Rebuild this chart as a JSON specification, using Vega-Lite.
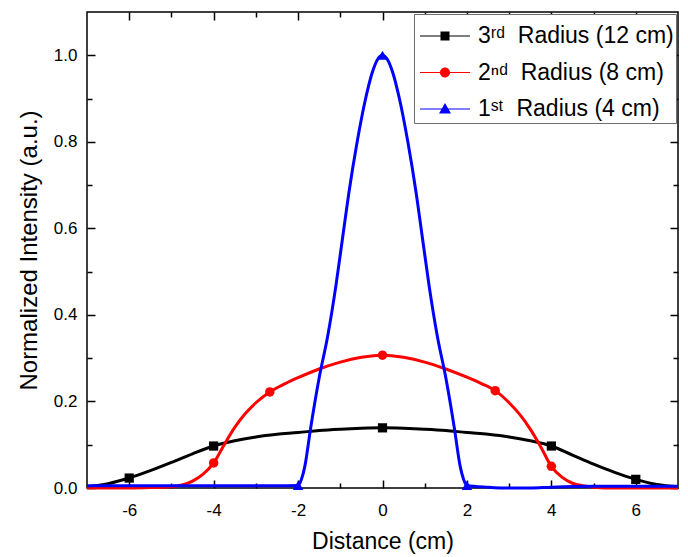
{
  "$schema": "https://vega.github.io/schema/vega-lite/v6.json",
  "autosize": {"type": "none"},
  "padding": {"left": 87, "top": 12, "right": 10, "bottom": 69},
  "width": 591,
  "height": 476,
  "background": "white",
  "datasets": {
    "curves": [
      {"series": "3ʳᵈ\u00a0 Radius (12 cm)", "x": -7, "y": 0.003},
      {"series": "3ʳᵈ\u00a0 Radius (12 cm)", "x": -6.5, "y": 0.01},
      {"series": "3ʳᵈ\u00a0 Radius (12 cm)", "x": -6, "y": 0.023},
      {"series": "3ʳᵈ\u00a0 Radius (12 cm)", "x": -5.5, "y": 0.04},
      {"series": "3ʳᵈ\u00a0 Radius (12 cm)", "x": -5, "y": 0.059},
      {"series": "3ʳᵈ\u00a0 Radius (12 cm)", "x": -4.5, "y": 0.079},
      {"series": "3ʳᵈ\u00a0 Radius (12 cm)", "x": -4, "y": 0.097},
      {"series": "3ʳᵈ\u00a0 Radius (12 cm)", "x": -3.5, "y": 0.109},
      {"series": "3ʳᵈ\u00a0 Radius (12 cm)", "x": -3, "y": 0.118},
      {"series": "3ʳᵈ\u00a0 Radius (12 cm)", "x": -2.5, "y": 0.124},
      {"series": "3ʳᵈ\u00a0 Radius (12 cm)", "x": -2, "y": 0.128},
      {"series": "3ʳᵈ\u00a0 Radius (12 cm)", "x": -1.5, "y": 0.133},
      {"series": "3ʳᵈ\u00a0 Radius (12 cm)", "x": -1, "y": 0.136},
      {"series": "3ʳᵈ\u00a0 Radius (12 cm)", "x": -0.5, "y": 0.138},
      {"series": "3ʳᵈ\u00a0 Radius (12 cm)", "x": 0, "y": 0.139},
      {"series": "3ʳᵈ\u00a0 Radius (12 cm)", "x": 0.5, "y": 0.138},
      {"series": "3ʳᵈ\u00a0 Radius (12 cm)", "x": 1, "y": 0.136},
      {"series": "3ʳᵈ\u00a0 Radius (12 cm)", "x": 1.5, "y": 0.133},
      {"series": "3ʳᵈ\u00a0 Radius (12 cm)", "x": 2, "y": 0.128},
      {"series": "3ʳᵈ\u00a0 Radius (12 cm)", "x": 2.5, "y": 0.124},
      {"series": "3ʳᵈ\u00a0 Radius (12 cm)", "x": 3, "y": 0.118},
      {"series": "3ʳᵈ\u00a0 Radius (12 cm)", "x": 3.5, "y": 0.109},
      {"series": "3ʳᵈ\u00a0 Radius (12 cm)", "x": 4, "y": 0.097},
      {"series": "3ʳᵈ\u00a0 Radius (12 cm)", "x": 4.5, "y": 0.076},
      {"series": "3ʳᵈ\u00a0 Radius (12 cm)", "x": 5, "y": 0.055},
      {"series": "3ʳᵈ\u00a0 Radius (12 cm)", "x": 5.5, "y": 0.036},
      {"series": "3ʳᵈ\u00a0 Radius (12 cm)", "x": 6, "y": 0.02},
      {"series": "3ʳᵈ\u00a0 Radius (12 cm)", "x": 6.5, "y": 0.008},
      {"series": "3ʳᵈ\u00a0 Radius (12 cm)", "x": 7, "y": 0.003},
      {"series": "2ⁿᵈ\u00a0 Radius (8 cm)", "x": -7, "y": 0.0},
      {"series": "2ⁿᵈ\u00a0 Radius (8 cm)", "x": -6, "y": 0.0},
      {"series": "2ⁿᵈ\u00a0 Radius (8 cm)", "x": -5.5, "y": 0.001},
      {"series": "2ⁿᵈ\u00a0 Radius (8 cm)", "x": -5, "y": 0.003},
      {"series": "2ⁿᵈ\u00a0 Radius (8 cm)", "x": -4.75, "y": 0.007},
      {"series": "2ⁿᵈ\u00a0 Radius (8 cm)", "x": -4.5, "y": 0.016},
      {"series": "2ⁿᵈ\u00a0 Radius (8 cm)", "x": -4.25, "y": 0.032},
      {"series": "2ⁿᵈ\u00a0 Radius (8 cm)", "x": -4, "y": 0.058},
      {"series": "2ⁿᵈ\u00a0 Radius (8 cm)", "x": -3.75, "y": 0.1},
      {"series": "2ⁿᵈ\u00a0 Radius (8 cm)", "x": -3.5, "y": 0.14},
      {"series": "2ⁿᵈ\u00a0 Radius (8 cm)", "x": -3.25, "y": 0.172},
      {"series": "2ⁿᵈ\u00a0 Radius (8 cm)", "x": -3, "y": 0.197},
      {"series": "2ⁿᵈ\u00a0 Radius (8 cm)", "x": -2.67, "y": 0.222},
      {"series": "2ⁿᵈ\u00a0 Radius (8 cm)", "x": -2.33, "y": 0.24},
      {"series": "2ⁿᵈ\u00a0 Radius (8 cm)", "x": -2, "y": 0.255},
      {"series": "2ⁿᵈ\u00a0 Radius (8 cm)", "x": -1.5, "y": 0.275},
      {"series": "2ⁿᵈ\u00a0 Radius (8 cm)", "x": -1, "y": 0.291},
      {"series": "2ⁿᵈ\u00a0 Radius (8 cm)", "x": -0.5, "y": 0.302},
      {"series": "2ⁿᵈ\u00a0 Radius (8 cm)", "x": 0, "y": 0.307},
      {"series": "2ⁿᵈ\u00a0 Radius (8 cm)", "x": 0.5, "y": 0.302},
      {"series": "2ⁿᵈ\u00a0 Radius (8 cm)", "x": 1, "y": 0.291},
      {"series": "2ⁿᵈ\u00a0 Radius (8 cm)", "x": 1.5, "y": 0.275},
      {"series": "2ⁿᵈ\u00a0 Radius (8 cm)", "x": 2, "y": 0.256},
      {"series": "2ⁿᵈ\u00a0 Radius (8 cm)", "x": 2.33, "y": 0.242},
      {"series": "2ⁿᵈ\u00a0 Radius (8 cm)", "x": 2.67, "y": 0.225},
      {"series": "2ⁿᵈ\u00a0 Radius (8 cm)", "x": 3, "y": 0.197},
      {"series": "2ⁿᵈ\u00a0 Radius (8 cm)", "x": 3.25, "y": 0.17},
      {"series": "2ⁿᵈ\u00a0 Radius (8 cm)", "x": 3.5, "y": 0.136},
      {"series": "2ⁿᵈ\u00a0 Radius (8 cm)", "x": 3.75, "y": 0.095},
      {"series": "2ⁿᵈ\u00a0 Radius (8 cm)", "x": 4, "y": 0.05},
      {"series": "2ⁿᵈ\u00a0 Radius (8 cm)", "x": 4.25, "y": 0.025},
      {"series": "2ⁿᵈ\u00a0 Radius (8 cm)", "x": 4.5, "y": 0.011},
      {"series": "2ⁿᵈ\u00a0 Radius (8 cm)", "x": 4.75, "y": 0.005},
      {"series": "2ⁿᵈ\u00a0 Radius (8 cm)", "x": 5, "y": 0.002},
      {"series": "2ⁿᵈ\u00a0 Radius (8 cm)", "x": 5.5, "y": 0.0},
      {"series": "2ⁿᵈ\u00a0 Radius (8 cm)", "x": 6, "y": 0.0},
      {"series": "2ⁿᵈ\u00a0 Radius (8 cm)", "x": 7, "y": 0.0},
      {"series": "1ˢᵗ\u00a0 Radius (4 cm)", "x": -7, "y": 0.005},
      {"series": "1ˢᵗ\u00a0 Radius (4 cm)", "x": -6, "y": 0.005},
      {"series": "1ˢᵗ\u00a0 Radius (4 cm)", "x": -5, "y": 0.005},
      {"series": "1ˢᵗ\u00a0 Radius (4 cm)", "x": -4, "y": 0.005},
      {"series": "1ˢᵗ\u00a0 Radius (4 cm)", "x": -3, "y": 0.005},
      {"series": "1ˢᵗ\u00a0 Radius (4 cm)", "x": -2.5, "y": 0.005},
      {"series": "1ˢᵗ\u00a0 Radius (4 cm)", "x": -2, "y": 0.006},
      {"series": "1ˢᵗ\u00a0 Radius (4 cm)", "x": -1.92, "y": 0.02},
      {"series": "1ˢᵗ\u00a0 Radius (4 cm)", "x": -1.84, "y": 0.05},
      {"series": "1ˢᵗ\u00a0 Radius (4 cm)", "x": -1.7, "y": 0.14},
      {"series": "1ˢᵗ\u00a0 Radius (4 cm)", "x": -1.5, "y": 0.255},
      {"series": "1ˢᵗ\u00a0 Radius (4 cm)", "x": -1.3, "y": 0.35},
      {"series": "1ˢᵗ\u00a0 Radius (4 cm)", "x": -1.1, "y": 0.47},
      {"series": "1ˢᵗ\u00a0 Radius (4 cm)", "x": -0.95, "y": 0.575},
      {"series": "1ˢᵗ\u00a0 Radius (4 cm)", "x": -0.8, "y": 0.68},
      {"series": "1ˢᵗ\u00a0 Radius (4 cm)", "x": -0.6, "y": 0.8},
      {"series": "1ˢᵗ\u00a0 Radius (4 cm)", "x": -0.4, "y": 0.9},
      {"series": "1ˢᵗ\u00a0 Radius (4 cm)", "x": -0.25, "y": 0.958},
      {"series": "1ˢᵗ\u00a0 Radius (4 cm)", "x": -0.1, "y": 0.993},
      {"series": "1ˢᵗ\u00a0 Radius (4 cm)", "x": 0, "y": 1.0},
      {"series": "1ˢᵗ\u00a0 Radius (4 cm)", "x": 0.1, "y": 0.993},
      {"series": "1ˢᵗ\u00a0 Radius (4 cm)", "x": 0.25, "y": 0.958},
      {"series": "1ˢᵗ\u00a0 Radius (4 cm)", "x": 0.4, "y": 0.9},
      {"series": "1ˢᵗ\u00a0 Radius (4 cm)", "x": 0.6, "y": 0.8},
      {"series": "1ˢᵗ\u00a0 Radius (4 cm)", "x": 0.8, "y": 0.68},
      {"series": "1ˢᵗ\u00a0 Radius (4 cm)", "x": 0.95, "y": 0.575},
      {"series": "1ˢᵗ\u00a0 Radius (4 cm)", "x": 1.1, "y": 0.47},
      {"series": "1ˢᵗ\u00a0 Radius (4 cm)", "x": 1.3, "y": 0.35},
      {"series": "1ˢᵗ\u00a0 Radius (4 cm)", "x": 1.5, "y": 0.255},
      {"series": "1ˢᵗ\u00a0 Radius (4 cm)", "x": 1.7, "y": 0.14},
      {"series": "1ˢᵗ\u00a0 Radius (4 cm)", "x": 1.84, "y": 0.05},
      {"series": "1ˢᵗ\u00a0 Radius (4 cm)", "x": 1.92, "y": 0.02},
      {"series": "1ˢᵗ\u00a0 Radius (4 cm)", "x": 2, "y": 0.006},
      {"series": "1ˢᵗ\u00a0 Radius (4 cm)", "x": 2.5, "y": 0.002},
      {"series": "1ˢᵗ\u00a0 Radius (4 cm)", "x": 3, "y": 0.0},
      {"series": "1ˢᵗ\u00a0 Radius (4 cm)", "x": 3.5, "y": 0.0},
      {"series": "1ˢᵗ\u00a0 Radius (4 cm)", "x": 4, "y": 0.002},
      {"series": "1ˢᵗ\u00a0 Radius (4 cm)", "x": 5, "y": 0.004},
      {"series": "1ˢᵗ\u00a0 Radius (4 cm)", "x": 6, "y": 0.004},
      {"series": "1ˢᵗ\u00a0 Radius (4 cm)", "x": 7, "y": 0.004}
    ],
    "markers": [
      {"series": "3ʳᵈ\u00a0 Radius (12 cm)", "x": -6, "y": 0.023},
      {"series": "3ʳᵈ\u00a0 Radius (12 cm)", "x": -4, "y": 0.097},
      {"series": "3ʳᵈ\u00a0 Radius (12 cm)", "x": 0, "y": 0.139},
      {"series": "3ʳᵈ\u00a0 Radius (12 cm)", "x": 4, "y": 0.097},
      {"series": "3ʳᵈ\u00a0 Radius (12 cm)", "x": 6, "y": 0.02},
      {"series": "2ⁿᵈ\u00a0 Radius (8 cm)", "x": -4, "y": 0.058},
      {"series": "2ⁿᵈ\u00a0 Radius (8 cm)", "x": -2.67, "y": 0.222},
      {"series": "2ⁿᵈ\u00a0 Radius (8 cm)", "x": 0, "y": 0.307},
      {"series": "2ⁿᵈ\u00a0 Radius (8 cm)", "x": 2.67, "y": 0.225},
      {"series": "2ⁿᵈ\u00a0 Radius (8 cm)", "x": 4, "y": 0.05},
      {"series": "1ˢᵗ\u00a0 Radius (4 cm)", "x": -2, "y": 0.006},
      {"series": "1ˢᵗ\u00a0 Radius (4 cm)", "x": 0, "y": 1.0},
      {"series": "1ˢᵗ\u00a0 Radius (4 cm)", "x": 2, "y": 0.006}
    ]
  },
  "layer": [
    {
      "data": {"name": "curves"},
      "transform": [{"filter": {"field": "series", "equal": "3ʳᵈ\u00a0 Radius (12 cm)"}}],
      "mark": {"type": "line", "strokeWidth": 3, "interpolate": "monotone", "color": "#000000"},
      "encoding": {
        "x": {"field": "x", "type": "quantitative", "scale": {"domain": [-7, 7], "nice": false, "zero": false},
          "axis": {"orient": "bottom", "values": [-6, -4, -2, 0, 2, 4, 6], "labelExpr": "datum.value + ''", "tickSize": -8, "labelPadding": 22, "title": "Distance (cm)", "titlePadding": 12, "titleFontSize": 23}},
        "y": {"field": "y", "type": "quantitative", "scale": {"domain": [0, 1.1], "nice": false},
          "axis": {"orient": "left", "values": [0, 0.2, 0.4, 0.6, 0.8, 1.0], "format": ".1f", "tickSize": -8, "labelPadding": 18, "title": "Normalized Intensity (a.u.)", "titlePadding": 12, "titleFontSize": 24}}
      }
    },
    {
      "data": {"name": "curves"},
      "transform": [{"filter": {"field": "series", "equal": "2ⁿᵈ\u00a0 Radius (8 cm)"}}],
      "mark": {"type": "line", "strokeWidth": 3, "interpolate": "monotone", "color": "#ff0000"},
      "encoding": {
        "x": {"field": "x", "type": "quantitative", "axis": {"orient": "top", "values": [-6, -4, -2, 0, 2, 4, 6], "labels": false, "tickSize": -8, "title": null}},
        "y": {"field": "y", "type": "quantitative", "axis": {"orient": "right", "values": [0, 0.2, 0.4, 0.6, 0.8, 1.0], "labels": false, "tickSize": -8, "title": null}}
      }
    },
    {
      "data": {"name": "curves"},
      "transform": [{"filter": {"field": "series", "equal": "1ˢᵗ\u00a0 Radius (4 cm)"}}],
      "mark": {"type": "line", "strokeWidth": 3, "interpolate": "monotone", "color": "#0000ff"},
      "encoding": {
        "x": {"field": "x", "type": "quantitative", "axis": {"orient": "bottom", "values": [-5, -3, -1, 1, 3, 5], "labels": false, "tickSize": -5, "title": null}},
        "y": {"field": "y", "type": "quantitative", "axis": {"orient": "left", "values": [0.1, 0.3, 0.5, 0.7, 0.9], "labels": false, "tickSize": -5, "title": null}}
      }
    },
    {
      "data": {"name": "markers"},
      "transform": [{"filter": {"field": "series", "equal": "3ʳᵈ\u00a0 Radius (12 cm)"}}],
      "mark": {"type": "point", "shape": "square", "filled": true, "size": 85, "opacity": 1, "color": "#000000"},
      "encoding": {
        "x": {"field": "x", "type": "quantitative", "axis": {"orient": "top", "values": [-5, -3, -1, 1, 3, 5], "labels": false, "tickSize": -5, "title": null}},
        "y": {"field": "y", "type": "quantitative", "axis": {"orient": "right", "values": [0.1, 0.3, 0.5, 0.7, 0.9], "labels": false, "tickSize": -5, "title": null}}
      }
    },
    {
      "data": {"name": "markers"},
      "transform": [{"filter": {"field": "series", "equal": "2ⁿᵈ\u00a0 Radius (8 cm)"}}],
      "mark": {"type": "point", "shape": "circle", "filled": true, "size": 90, "opacity": 1, "color": "#ff0000"},
      "encoding": {
        "x": {"field": "x", "type": "quantitative", "axis": null},
        "y": {"field": "y", "type": "quantitative", "axis": null}
      }
    },
    {
      "data": {"name": "markers"},
      "transform": [{"filter": {"field": "series", "equal": "1ˢᵗ\u00a0 Radius (4 cm)"}}],
      "mark": {"type": "point", "shape": "triangle-up", "filled": true, "size": 110, "opacity": 1, "color": "#0000ff"},
      "encoding": {
        "x": {"field": "x", "type": "quantitative", "axis": null},
        "y": {"field": "y", "type": "quantitative", "axis": null}
      }
    },
    {
      "data": {"name": "markers"},
      "mark": {"type": "point", "filled": true, "opacity": 0},
      "encoding": {
        "x": {"field": "x", "type": "quantitative", "axis": null},
        "y": {"field": "y", "type": "quantitative", "axis": null},
        "color": {"field": "series", "type": "nominal",
          "scale": {"domain": ["3ʳᵈ\u00a0 Radius (12 cm)", "2ⁿᵈ\u00a0 Radius (8 cm)", "1ˢᵗ\u00a0 Radius (4 cm)"], "range": ["#000000", "#ff0000", "#0000ff"]},
          "legend": {"title": null, "orient": "top-right", "offset": 2, "padding": 2, "strokeColor": "#6e6e6e", "fillColor": "#ffffff", "symbolSize": 1600, "symbolStrokeWidth": 0, "symbolOpacity": 1, "labelFontSize": 23, "labelColor": "#000000", "labelOffset": 22, "rowPadding": 4.5, "labelLimit": 400}},
        "shape": {"field": "series", "type": "nominal",
          "scale": {"domain": ["3ʳᵈ\u00a0 Radius (12 cm)", "2ⁿᵈ\u00a0 Radius (8 cm)", "1ˢᵗ\u00a0 Radius (4 cm)"],
            "range": [
              "M-0.8,-0.03H1.7V0.03H-0.8Z M0.225,-0.225H0.675V0.225H0.225Z",
              "M-0.8,-0.03H1.7V0.03H-0.8Z M0.2,0A0.25,0.25,0,1,1,0.7,0A0.25,0.25,0,1,1,0.2,0Z",
              "M-0.8,-0.03H1.7V0.03H-0.8Z M0.45,-0.3L0.75,0.23H0.15Z"
            ]},
          "legend": {"title": null, "orient": "top-right", "offset": 2, "padding": 2, "strokeColor": "#6e6e6e", "fillColor": "#ffffff", "symbolSize": 1600, "symbolStrokeWidth": 0, "symbolOpacity": 1, "labelFontSize": 23, "labelColor": "#000000", "labelOffset": 22, "rowPadding": 4.5, "labelLimit": 400}}
      }
    }
  ],
  "resolve": {"axis": {"x": "independent", "y": "independent"}},
  "config": {
    "font": "Liberation Sans",
    "view": {"stroke": "#000000", "strokeWidth": 1.5},
    "axis": {"grid": false, "domain": false, "tickColor": "#000000", "tickWidth": 1.5, "labelColor": "#000000", "labelFontSize": 17, "titleColor": "#000000", "titleFontSize": 22, "titleFontWeight": "normal"}
  }
}
